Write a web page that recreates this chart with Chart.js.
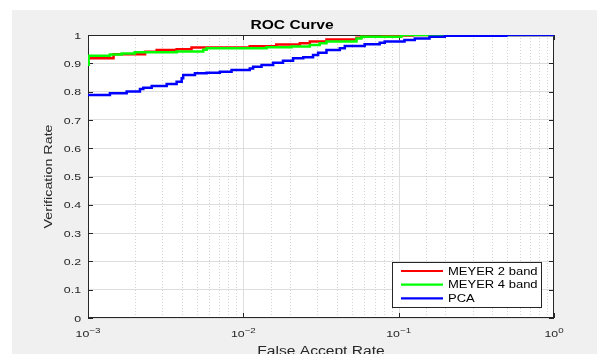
<!DOCTYPE html>
<html>
<head>
<meta charset="utf-8">
<script src="https://cdn.jsdelivr.net/npm/chart.js@4.4.1/dist/chart.umd.min.js"></script>
<style>
  html, body { margin: 0; padding: 0; background: #fff; overflow: hidden; }
  #wrap { width: 597px; height: 354px; overflow: hidden; }
</style>
</head>
<body>
<div id="wrap"><canvas id="roc" width="597" height="362"></canvas></div>
<script>
const seriesNames = ['MEYER 2 band', 'MEYER 4 band', 'PCA'];
const seriesColors = ['#ff0000', '#00ff00', '#0000ff'];

// false accept rate / verification rate (step curves)
const meyer2Far = [0.001, 0.00146, 0.00233, 0.00277, 0.00372, 0.00464, 0.0110, 0.0163, 0.0231, 0.0268, 0.0343, 0.0535, 0.0575, 0.0792, 0.123, 1];
const meyer2Vr  = [0.918, 0.932, 0.941, 0.947, 0.950, 0.956, 0.960, 0.966, 0.971, 0.977, 0.984, 0.990, 0.994, 0.998, 1.0, 1.0];

const meyer4Far = [0.001, 0.00101, 0.001384, 0.00165, 0.0020, 0.00372, 0.00552, 0.0058, 0.0141, 0.0204, 0.0268, 0.0310, 0.0343, 0.0535, 0.0575, 0.104, 1];
const meyer4Vr  = [0.895, 0.927, 0.931, 0.935, 0.939, 0.942, 0.948, 0.953, 0.957, 0.959, 0.965, 0.971, 0.977, 0.988, 0.994, 1.0, 1.0];

const pcaFar = [0.001, 0.001384, 0.001774, 0.00216, 0.00227, 0.00257, 0.00321, 0.00372, 0.00401, 0.0041, 0.00488, 0.0058, 0.00706, 0.0084, 0.0110, 0.01156, 0.0131, 0.01555, 0.0180, 0.0209, 0.0243, 0.0281, 0.0303, 0.0343, 0.0418, 0.0450, 0.0604, 0.0755, 0.0813, 0.109, 0.127, 0.158, 0.198, 0.493, 1];
const pcaVr  = [0.788, 0.794, 0.800, 0.809, 0.814, 0.820, 0.827, 0.835, 0.847, 0.859, 0.865, 0.867, 0.870, 0.876, 0.882, 0.888, 0.894, 0.902, 0.909, 0.918, 0.921, 0.929, 0.937, 0.947, 0.953, 0.961, 0.967, 0.973, 0.977, 0.982, 0.988, 0.994, 0.997, 1.0, 1.0];

const decadeTicks = [0.001, 0.01, 0.1, 1];
const decadeExponents = ['\u22123', '\u22122', '\u22121', '0'];

const FONT = "'Liberation Sans', Arial, sans-serif";
const SX = 1.3; // the original text is drawn noticeably wider than Liberation Sans

Chart.defaults.font.family = FONT;

const canvas = document.getElementById('roc');
const ctx2d = canvas.getContext('2d');
const baseFillText = ctx2d.fillText;
ctx2d.fillText = function (text, x, y) {
  this.save();
  this.translate(x, y);
  this.scale(SX, 1);
  baseFillText.call(this, text, 0, 0);
  this.restore();
};

function isDecade(v) {
  const e = Math.log10(v);
  return Math.abs(e - Math.round(e)) < 1e-6;
}

function toPoints(far, vr) {
  return far.map((x, i) => ({ x, y: vr[i] }));
}

const frame = {
  id: 'frame',
  beforeDraw(chart) {
    const { ctx, chartArea: a, width, height } = chart;
    ctx.save();
    ctx.fillStyle = '#ffffff';
    ctx.fillRect(0, 0, width, height);
    ctx.fillStyle = '#f0f0f0';
    ctx.fillRect(12, 10, width - 12, height - 10);
    ctx.fillStyle = '#ffffff';
    ctx.fillRect(a.left, a.top, a.right - a.left, a.bottom - a.top);
    ctx.restore();
  },
  beforeDatasetsDraw(chart) {
    const { ctx, chartArea: a, scales } = chart;
    const xs = scales.x, ys = scales.y;
    ctx.save();
    ctx.lineWidth = 1;
    // x grid: dotted minors, solid decades
    xs.ticks.forEach(t => {
      const px = Math.round(xs.getPixelForValue(t.value)) + 0.5;
      if (px <= a.left + 1 || px >= a.right - 1) return;
      if (isDecade(t.value)) {
        ctx.setLineDash([]);
        ctx.strokeStyle = '#dedede';
      } else {
        ctx.setLineDash([1, 2]);
        ctx.strokeStyle = '#d2d2d2';
      }
      ctx.beginPath();
      ctx.moveTo(px, a.top);
      ctx.lineTo(px, a.bottom);
      ctx.stroke();
    });
    ctx.setLineDash([]);
    // box and inward ticks
    ctx.strokeStyle = '#262626';
    ctx.strokeRect(a.left + 0.5, a.top + 0.5, a.right - a.left - 1, a.bottom - a.top - 1);
    ctx.beginPath();
    ys.ticks.forEach(t => {
      const py = Math.round(ys.getPixelForValue(t.value)) + 0.5;
      ctx.moveTo(a.left, py); ctx.lineTo(a.left + 5, py);
      ctx.moveTo(a.right - 5, py); ctx.lineTo(a.right, py);
    });
    decadeTicks.forEach(v => {
      const px = Math.round(xs.getPixelForValue(v)) + 0.5;
      ctx.moveTo(px, a.bottom); ctx.lineTo(px, a.bottom - 5);
      ctx.moveTo(px, a.top); ctx.lineTo(px, a.top + 5);
    });
    ctx.stroke();
    ctx.restore();
  },
  afterDatasetsDraw(chart) {
    const { ctx, chartArea: a, scales } = chart;
    ctx.save();

    // x tick labels as 10 with a raised exponent
    ctx.fillStyle = '#262626';
    ctx.textBaseline = 'alphabetic';
    ctx.textAlign = 'left';
    decadeTicks.forEach((v, i) => {
      const px = scales.x.getPixelForValue(v);
      ctx.font = '9.5px ' + FONT;
      const wBase = ctx.measureText('10').width * SX;
      ctx.font = '7.5px ' + FONT;
      const wExp = ctx.measureText(decadeExponents[i]).width * SX;
      const x0 = px - (wBase + wExp) / 2;
      ctx.font = '9.5px ' + FONT;
      ctx.fillText('10', x0, a.bottom + 19.3);
      ctx.font = '7.5px ' + FONT;
      ctx.fillText(decadeExponents[i], x0 + wBase, a.bottom + 14.7);
    });

    // legend box in the lower right corner
    const w = 149, h = 45;
    const left = a.right - 13 - w, top = a.bottom - 11 - h;
    ctx.fillStyle = '#ffffff';
    ctx.fillRect(left, top, w, h);
    ctx.strokeStyle = '#262626';
    ctx.lineWidth = 1;
    ctx.strokeRect(left + 0.5, top + 0.5, w, h);
    ctx.font = '10px ' + FONT;
    ctx.textBaseline = 'middle';
    ctx.fillStyle = '#000000';
    chart.data.datasets.forEach((ds, i) => {
      const y = top + 9 + i * 13.7;
      ctx.strokeStyle = ds.borderColor;
      ctx.lineWidth = 2.2;
      ctx.beginPath();
      ctx.moveTo(left + 9, y);
      ctx.lineTo(left + 51, y);
      ctx.stroke();
      ctx.fillText(ds.label, left + 56, y + 1);
    });
    ctx.restore();
  }
};

new Chart(canvas, {
  type: 'line',
  data: {
    datasets: [
      { label: seriesNames[0], data: toPoints(meyer2Far, meyer2Vr), borderColor: seriesColors[0], order: 2 },
      { label: seriesNames[1], data: toPoints(meyer4Far, meyer4Vr), borderColor: seriesColors[1], order: 1 },
      { label: seriesNames[2], data: toPoints(pcaFar, pcaVr), borderColor: seriesColors[2], order: 0 }
    ]
  },
  options: {
    responsive: false,
    animation: false,
    devicePixelRatio: 1,
    layout: { padding: { left: 30, top: 13, right: 43, bottom: 0 } },
    elements: {
      point: { radius: 0 },
      line: { borderWidth: 2.5, stepped: true, fill: false }
    },
    plugins: {
      legend: { display: false },
      tooltip: { enabled: false },
      title: {
        display: true,
        text: 'ROC Curve',
        color: '#000000',
        font: { size: 12, weight: 'bold' },
        padding: { top: 5, bottom: 2.6 }
      }
    },
    scales: {
      x: {
        type: 'logarithmic',
        min: 0.001,
        max: 1,
        grid: { display: false },
        border: { display: false },
        ticks: { display: false },
        title: {
          display: true,
          text: 'False Accept Rate',
          color: '#262626',
          font: { size: 12 },
          padding: { top: 0, bottom: 3 }
        },
        afterFit(s) { s.height = 44; }
      },
      y: {
        min: 0,
        max: 1,
        ticks: {
          stepSize: 0.1,
          color: '#262626',
          font: { size: 9.5 },
          padding: 7,
          labelOffset: 1,
          callback: v => String(Number(v.toFixed(1)))
        },
        grid: { color: '#dedede', drawTicks: false },
        border: { display: false },
        title: {
          display: true,
          text: 'Verification Rate',
          color: '#262626',
          font: { size: 11 },
          padding: { top: 12.7, bottom: 0 }
        },
        afterFit(s) { s.width = 58; }
      }
    }
  },
  plugins: [frame]
});
</script>
</body>
</html>
